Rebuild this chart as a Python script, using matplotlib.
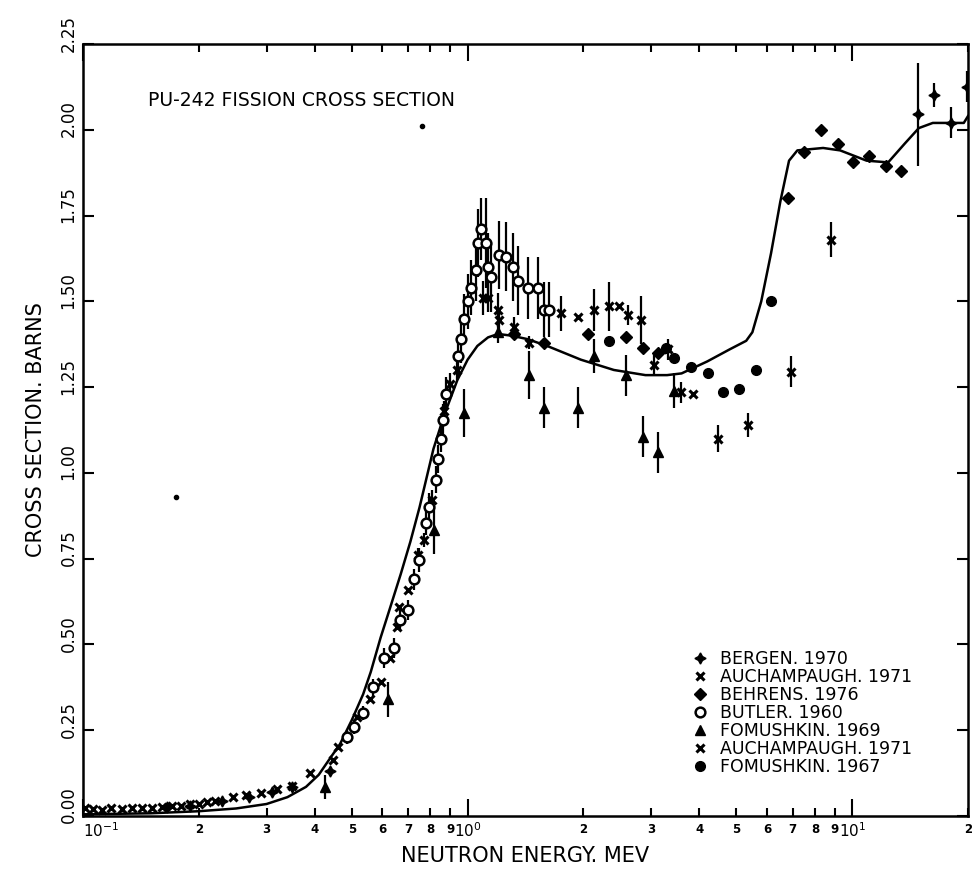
import numpy as np
import matplotlib
matplotlib.use('Agg')
import matplotlib.pyplot as plt
from matplotlib.transforms import ScaledTranslation

# evaluated curve
curve_e = [0.1, 0.15, 0.2, 0.25, 0.3, 0.34, 0.38, 0.41, 0.44, 0.466, 0.5, 0.535, 0.56, 0.594,
           0.63, 0.67, 0.71, 0.75, 0.815, 0.87, 0.94, 1.0, 1.06, 1.13, 1.2, 1.3, 1.43, 1.61,
           1.97, 2.4, 2.9, 3.3, 3.6, 4.2, 4.8, 5.3, 5.5, 5.8, 6.15, 6.5, 6.85, 7.2, 8.4, 9.3,
           10.9, 12.4, 13.7, 14.9, 16.2, 18.1, 19.5, 20.0]
curve_xs = [0.005, 0.008, 0.014, 0.022, 0.035, 0.055, 0.085, 0.12, 0.17, 0.21, 0.28, 0.355, 0.42, 0.52,
            0.61, 0.705, 0.80, 0.90, 1.07, 1.17, 1.27, 1.33, 1.37, 1.395, 1.405, 1.40, 1.39, 1.37,
            1.33, 1.30, 1.285, 1.285, 1.29, 1.325, 1.36, 1.385, 1.41, 1.50, 1.64, 1.79, 1.91, 1.94, 1.947, 1.94,
            1.91, 1.905, 1.96, 2.005, 2.02, 2.02, 2.02, 2.04]

bergen_e = [0.165, 0.19, 0.23, 0.27, 0.31, 0.35, 0.44, 14.86, 16.35, 18.1, 19.9]
bergen_xs = [0.026, 0.03, 0.045, 0.055, 0.07, 0.085, 0.13, 2.045, 2.10, 2.02, 2.125]
bergen_err = [0, 0, 0, 0, 0, 0, 0, 0.15, 0.035, 0.045, 0.045]

auch1_e = [0.101, 0.106, 0.112, 0.118, 0.126, 0.134, 0.142, 0.151, 0.16, 0.17, 0.18, 0.19, 0.2, 0.21,
           0.22, 0.245, 0.265, 0.29, 0.32, 0.35, 0.39, 0.448, 0.461, 0.517, 0.559, 0.594, 0.63, 0.657,
           0.665, 0.7, 0.745, 0.768, 0.81, 0.87, 0.9, 0.94, 1.094, 1.127, 1.197, 1.204, 1.318, 1.442,
           1.746, 1.934, 2.129, 2.329, 2.473, 2.61, 2.82, 3.05, 3.32, 3.59, 3.85]
auch1_xs = [0.022, 0.02, 0.018, 0.022, 0.02, 0.024, 0.022, 0.024, 0.026, 0.028, 0.03, 0.034, 0.036, 0.04,
            0.045, 0.055, 0.06, 0.068, 0.078, 0.088, 0.125, 0.163, 0.20, 0.29, 0.34, 0.39, 0.46, 0.55,
            0.61, 0.66, 0.76, 0.805, 0.92, 1.18, 1.26, 1.30, 1.51, 1.51, 1.475, 1.445, 1.425, 1.38,
            1.465, 1.455, 1.475, 1.485, 1.485, 1.46, 1.445, 1.315, 1.36, 1.235, 1.23]
auch1_err = [0] * 30 + [0.02, 0.02, 0.03, 0.03, 0.03, 0.03, 0.05, 0.04, 0.05, 0.03, 0.03, 0.02,
                        0.05, 0.0, 0.06, 0.07, 0.0, 0.03, 0.07, 0.03, 0.03, 0.03, 0.0]

behrens_e = [1.318, 1.577, 2.054, 2.58, 2.855, 3.12, 6.81, 7.5, 8.31, 9.2, 10.06, 11.07, 12.26, 13.42]
behrens_xs = [1.405, 1.38, 1.405, 1.395, 1.365, 1.35, 1.80, 1.935, 2.00, 1.96, 1.905, 1.925, 1.895, 1.88]

butler_e = [0.487, 0.505, 0.536, 0.569, 0.605, 0.642, 0.669, 0.698, 0.724, 0.746, 0.778, 0.792, 0.826,
            0.835, 0.851, 0.861, 0.876, 0.942, 0.959, 0.976, 1.0, 1.018, 1.049, 1.062, 1.081, 1.114,
            1.127, 1.148, 1.204, 1.256, 1.31, 1.349, 1.433, 1.522, 1.577, 1.625]
butler_xs = [0.23, 0.26, 0.30, 0.375, 0.46, 0.49, 0.57, 0.60, 0.69, 0.745, 0.855, 0.90, 0.98,
             1.04, 1.10, 1.155, 1.23, 1.34, 1.39, 1.45, 1.50, 1.54, 1.59, 1.67, 1.71, 1.67,
             1.60, 1.57, 1.635, 1.63, 1.60, 1.56, 1.54, 1.54, 1.475, 1.475]
butler_err = [0.02, 0.02, 0.02, 0.025, 0.03, 0.03, 0.03, 0.03, 0.03, 0.035, 0.035, 0.04, 0.04,
              0.04, 0.04, 0.045, 0.05, 0.06, 0.07, 0.07, 0.08, 0.08, 0.09, 0.10, 0.09, 0.13,
              0.10, 0.10, 0.10, 0.10, 0.10, 0.10, 0.09, 0.09, 0.08, 0.08]

fom69_e = [0.427, 0.619, 0.816, 0.976, 1.197, 1.442, 1.577, 1.934, 2.129, 2.579, 2.855, 3.124, 3.44]
fom69_xs = [0.085, 0.34, 0.835, 1.175, 1.41, 1.285, 1.19, 1.19, 1.34, 1.285, 1.105, 1.06, 1.24]
fom69_err = [0.035, 0.05, 0.07, 0.07, 0.03, 0.07, 0.06, 0.06, 0.05, 0.06, 0.06, 0.06, 0.05]

auch2_e = [4.48, 5.36, 6.94, 8.82]
auch2_xs = [1.10, 1.14, 1.295, 1.68]
auch2_err = [0.04, 0.035, 0.045, 0.05]

fom67_e = [2.33, 3.28, 3.44, 3.81, 4.22, 4.62, 5.08, 5.62, 6.15]
fom67_xs = [1.385, 1.365, 1.335, 1.31, 1.29, 1.235, 1.245, 1.30, 1.50]

stray_e = [0.174, 0.76]
stray_xs = [0.93, 2.01]

minor_e = [0.2, 0.3, 0.4, 0.5, 0.6, 0.7, 0.8, 0.9, 2, 3, 4, 5, 6, 7, 8, 9, 20]
minor_lbl = ['2', '3', '4', '5', '6', '7', '8', '9', '2', '3', '4', '5', '6', '7', '8', '9', '2']
y_ticks = [0.0, 0.25, 0.5, 0.75, 1.0, 1.25, 1.5, 1.75, 2.0, 2.25]

fig = plt.figure(figsize=(9.72, 8.75), dpi=100)
ax = fig.add_axes([0.0854, 0.0674, 0.9105, 0.8823])

ax.plot(curve_e, curve_xs, color='black', lw=1.8)

bar = dict(fmt='none', ecolor='black', elinewidth=1.6, capsize=0)
ax.errorbar(bergen_e, bergen_xs, yerr=bergen_err, **bar)
ax.errorbar(auch1_e, auch1_xs, yerr=auch1_err, **bar)
ax.errorbar(butler_e, butler_xs, yerr=butler_err, **bar)
ax.errorbar(fom69_e, fom69_xs, yerr=fom69_err, **bar)
ax.errorbar(auch2_e, auch2_xs, yerr=auch2_err, **bar)

ax.plot(bergen_e, bergen_xs, ls='none', marker=(4, 1, 0), ms=8, color='black', label='BERGEN. 1970')
ax.plot(auch1_e, auch1_xs, ls='none', marker='x', ms=6, mew=2.2, color='black', label='AUCHAMPAUGH. 1971')
ax.plot(behrens_e, behrens_xs, ls='none', marker='D', ms=6, color='black', label='BEHRENS. 1976')
ax.plot(butler_e, butler_xs, ls='none', marker='o', ms=7, mew=1.8, mfc='white', color='black',
        label='BUTLER. 1960')
ax.plot(fom69_e, fom69_xs, ls='none', marker='^', ms=7, color='black', label='FOMUSHKIN. 1969')
ax.plot(auch2_e, auch2_xs, ls='none', marker='x', ms=6, mew=2.2, color='black', label='AUCHAMPAUGH. 1971')
ax.plot(fom67_e, fom67_xs, ls='none', marker='o', ms=7, color='black', label='FOMUSHKIN. 1967')
ax.plot(stray_e, stray_xs, ls='none', marker='o', ms=3, color='black')

ax.set_xscale('log')
ax.set_xlim(0.1, 20)
ax.set_ylim(0, 2.25)

ax.set_xticks([0.1, 1, 10], labels=['$10^{-1}$', '$10^{0}$', '$10^{1}$'])
ax.set_xticks(minor_e, labels=minor_lbl, minor=True)
for lbl in ax.get_xticklabels(minor=True):
    lbl.set_fontsize(8.5)
    lbl.set_fontweight('bold')
ax.get_xticklabels()[0].set_ha('left')
ax.set_yticks(y_ticks, labels=['%.2f' % v for v in y_ticks])

ax.tick_params(axis='both', which='both', direction='in', top=True, right=True, width=1.5)
ax.tick_params(axis='x', which='major', length=12, labelsize=11, pad=4)
ax.tick_params(axis='x', which='minor', length=6, pad=5)
ax.tick_params(axis='y', which='major', length=8, labelsize=12, labelrotation=90, pad=4)
# the old plotter set the y labels a little above their ticks
lift = ScaledTranslation(0, 0.11, fig.dpi_scale_trans)
for lbl in ax.get_yticklabels():
    lbl.set_va('center')
    lbl.set_transform(lbl.get_transform() + lift)
for s in ax.spines.values():
    s.set_linewidth(1.8)

ax.set_xlabel('NEUTRON ENERGY. MEV', fontsize=15, labelpad=4)
ax.set_ylabel('CROSS SECTION. BARNS', fontsize=15, labelpad=10)

ax.text(0.073, 0.927, 'PU-242 FISSION CROSS SECTION', transform=ax.transAxes, fontsize=13.5, va='center')

ax.legend(loc='lower left', bbox_to_anchor=(0.68, 0.04), frameon=False, fontsize=12.5,
          handlelength=0.8, handletextpad=0.7, labelspacing=0.0, borderpad=0)

fig.savefig('out.png', dpi=100)
